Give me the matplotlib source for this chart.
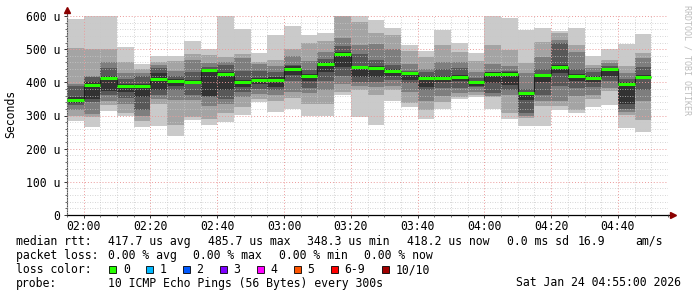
import numpy as np
import matplotlib
matplotlib.use("Agg")
import matplotlib.pyplot as plt
from matplotlib.patches import Rectangle

W, H = 697, 297
MONO = "DejaVu Sans Mono"
FS = 8.3

# ---- data: 10 sorted pings per 5 minute step, starting 01:55 (values in us)
ping_10 = [591, 640, 620, 506, 456, 480, 480, 525, 502, 660, 560, 489, 542, 569, 542, 549, 700, 610,
           589, 565, 512, 494, 557, 519, 489, 650, 594, 559, 565, 556, 565, 479, 499, 515, 547]
ping_09 = [503, 502, 501, 462, 440, 462, 463, 485, 483, 477, 485, 462, 468, 502, 519, 525, 630, 582,
           550, 542, 495, 477, 512, 492, 465, 512, 497, 459, 522, 548, 514, 452, 467, 448, 487]
ping_08 = [395, 420, 462, 428, 428, 453, 435, 467, 458, 462, 472, 456, 450, 479, 464, 490, 533, 512,
           515, 502, 455, 440, 462, 462, 432, 455, 449, 429, 477, 528, 492, 442, 457, 429, 472]
ping_07 = [390, 415, 444, 411, 420, 444, 418, 432, 445, 452, 435, 434, 432, 452, 437, 470, 510, 485,
           467, 452, 434, 430, 439, 442, 412, 432, 435, 380, 439, 520, 440, 430, 450, 410, 445]
ping_06 = [355, 400, 418, 395, 395, 428, 410, 408, 440, 430, 407, 412, 415, 448, 425, 460, 490, 450,
           448, 440, 432, 418, 418, 422, 404, 430, 430, 372, 425, 452, 426, 418, 442, 400, 422]
ping_05 = [338, 350, 375, 372, 357, 378, 390, 397, 360, 377, 386, 395, 385, 422, 405, 430, 445, 415,
           417, 420, 407, 385, 400, 405, 390, 397, 392, 347, 402, 428, 405, 400, 418, 334, 410]
ping_04 = [333, 340, 363, 353, 317, 363, 378, 363, 355, 350, 372, 380, 378, 405, 382, 405, 420, 402,
           400, 407, 399, 377, 384, 382, 385, 369, 377, 307, 362, 390, 384, 385, 405, 320, 377]
ping_03 = [318, 305, 345, 336, 299, 350, 348, 348, 328, 335, 357, 366, 362, 372, 367, 378, 395, 389,
           385, 389, 372, 344, 359, 367, 372, 360, 362, 297, 345, 345, 358, 362, 383, 312, 344]
ping_02 = [300, 294, 333, 308, 282, 335, 270, 295, 288, 309, 327, 350, 345, 352, 335, 336, 370, 377,
           362, 377, 339, 317, 340, 355, 362, 357, 307, 292, 329, 328, 318, 349, 375, 302, 287]
ping_01 = [282, 264, 314, 300, 264, 268, 238, 285, 270, 279, 302, 340, 312, 320, 299, 298, 362, 295,
           272, 345, 325, 290, 319, 350, 355, 319, 289, 269, 269, 316, 308, 327, 332, 262, 249]
median_rtt = [348, 392, 414, 390, 388, 411, 405, 402, 437, 424, 400, 408, 408, 441, 419, 454, 485, 445,
              443, 435, 429, 414, 413, 416, 400, 426, 426, 369, 422, 446, 420, 414, 439, 394, 417]

x_ticklabels = ["02:00", "02:20", "02:40", "03:00", "03:20", "03:40", "04:00", "04:20", "04:40"]
y_ticklabels = ["0", "100 u", "200 u", "300 u", "400 u", "500 u", "600 u"]

loss_labels = ["0", "1", "2", "3", "4", "5", "6-9", "10/10"]
loss_colors = ["#26ff00", "#00b8ff", "#0059ff", "#7e00ff", "#ff00ff", "#ff5500", "#ff0000", "#a10000"]
smoke_colors = ["#cacaca", "#a4a4a4", "#7e7e7e", "#585858", "#323232"]


def px(x, y):
    """pixel position -> figure fraction"""
    return x / W, 1 - y / H


fig = plt.figure(figsize=(W / 100, H / 100), dpi=100)
fig.patch.set_facecolor("white")
ax = fig.add_axes([67 / W, 1 - 215 / H, 601 / W, 199 / H])

pings = np.array([ping_01, ping_02, ping_03, ping_04, ping_05,
                  ping_06, ping_07, ping_08, ping_09, ping_10], dtype=float)
nbar = pings.shape[1]
edges = np.arange(nbar + 1) * 5.0

### smoke bands: outer pair lightest, inner pair darkest
for k in range(5):
    lo, hi = pings[k], pings[9 - k]
    ax.bar(edges[:-1], hi - lo, bottom=lo, width=5, align="edge",
           color=smoke_colors[k], edgecolor="none", linewidth=0,
           antialiased=False, zorder=1)

ax.stairs(median_rtt, edges, baseline=None, color="#202020", lw=0.8, zorder=3)
ax.hlines(median_rtt, edges[:-1], edges[1:], color=loss_colors[0], lw=2.2, zorder=4)

### axes, grid
ax.set_xlim(0, 180)
ax.set_ylim(0, 600)
ax.set_xticks(np.arange(5, 181, 20))
ax.set_xticklabels(x_ticklabels, family=MONO, fontsize=FS)
ax.set_xticks(np.arange(0, 181, 5), minor=True)
ax.set_yticks(np.arange(0, 601, 100))
ax.set_yticklabels(y_ticklabels, family=MONO, fontsize=FS)
ax.set_yticks(np.arange(0, 601, 20), minor=True)
ax.set_axisbelow(False)
ax.grid(which="minor", color="#c8c8c8", ls=(0, (1, 2)), lw=0.6)
ax.grid(which="major", color="#eb9a9a", ls=(0, (1, 2)), lw=0.7)
ax.tick_params(which="major", length=2.5, width=0.7, color="#333333")
ax.tick_params(which="minor", length=1.2, width=0.6, color="#555555")
ax.tick_params(axis="x", pad=0.8)
ax.tick_params(axis="y", pad=2.5)

for s in ["top", "right"]:
    ax.spines[s].set_visible(False)
ax.spines["left"].set_color("#555555")
ax.spines["left"].set_linewidth(0.8)
ax.spines["bottom"].set_color("#000000")
ax.spines["bottom"].set_linewidth(0.9)
ax.plot([0, 0], [600, 615], color="#555555", lw=0.8, clip_on=False)
ax.plot([180, 181.5], [0, 0], color="#000000", lw=0.9, clip_on=False)
ax.plot([0], [617], marker="^", ms=3.8, color="#8b0000", clip_on=False, zorder=6)
ax.plot([181.5], [0], marker=">", ms=3.8, color="#8b0000", clip_on=False, zorder=6)

fig.text(*px(11, 114), "Seconds", family=MONO, fontsize=FS, rotation=90,
         ha="center", va="center")
fig.text(*px(687, 5), "RRDTOOL / TOBI OETIKER", family=MONO, fontsize=6,
         rotation=-90, ha="center", va="top", color="#bdbdbd")

### legend block
rows = [241.3, 255.3, 269.7, 283]
line1 = [(16, "median rtt:"), (107.5, "417.7 us avg"), (207.5, "485.7 us max"),
         (307.3, "348.3 us min"), (407.3, "418.2 us now"), (507.3, "0.0 ms sd"),
         (577.3, "16.9"), (635, "am/s")]
line2 = [(16, "packet loss:"), (107.5, "0.00 % avg"), (193.3, "0.00 % max"),
         (279, "0.00 % min"), (364.4, "0.00 % now")]
for x, t in line1:
    fig.text(*px(x, rows[0]), t, family=MONO, fontsize=FS, va="center")
for x, t in line2:
    fig.text(*px(x, rows[1]), t, family=MONO, fontsize=FS, va="center")

fig.text(*px(16, rows[2]), "loss color:", family=MONO, fontsize=FS, va="center")
box_x = [109, 146, 182.5, 219.5, 256.5, 293.5, 330.5, 381.5]
for bx, lab, col in zip(box_x, loss_labels, loss_colors):
    x0, y0 = px(bx, rows[2] + 3.5)
    fig.patches.append(Rectangle((x0, y0), 7 / W, 7 / H, transform=fig.transFigure,
                                 facecolor=col, edgecolor="black", lw=0.6))
    fig.text(*px(bx + 14, rows[2]), lab, family=MONO, fontsize=FS, va="center")

fig.text(*px(16, rows[3]), "probe:", family=MONO, fontsize=FS, va="center")
fig.text(*px(107.5, rows[3]), "10 ICMP Echo Pings (56 Bytes) every 300s",
         family=MONO, fontsize=FS, va="center")
fig.text(*px(681, rows[3]), "Sat Jan 24 04:55:00 2026", family=MONO, fontsize=FS,
         va="center", ha="right")

fig.savefig("out.png", dpi=100, facecolor="white")
